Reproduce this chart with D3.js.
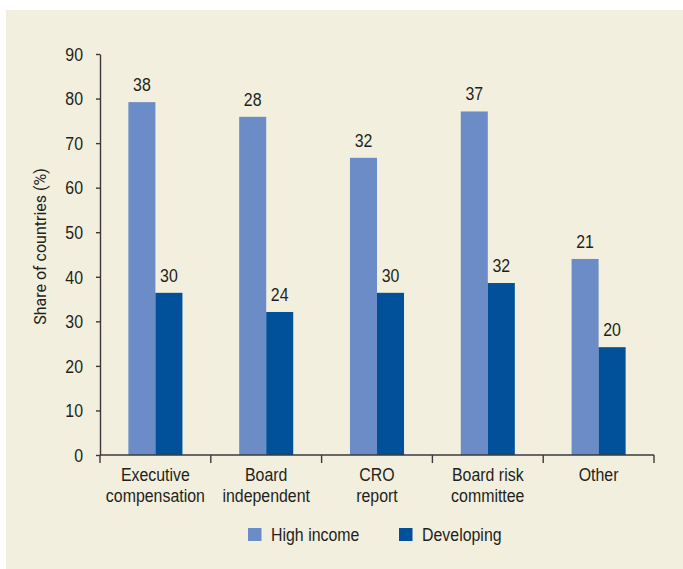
<!DOCTYPE html>
<html>
<head>
<meta charset="utf-8">
<script src="https://cdn.jsdelivr.net/npm/d3@7"></script>
<style>
  html, body { margin: 0; padding: 0; background: #ffffff; }
  svg { display: block; }
  .cond { font-family: "Liberation Sans", Arial, sans-serif; fill: #231f20; }
</style>
</head>
<body>
<svg id="chart" width="683" height="569"></svg>
<script>
// Categories (two-line labels) and series
const categories = ["Executive compensation", "Board independent", "CRO report", "Board risk committee", "Other"];
const categoryLines = [["Executive", "compensation"], ["Board", "independent"], ["CRO", "report"], ["Board risk", "committee"], ["Other"]];
const seriesNames = ["High income", "Developing"];

// Share of countries (%) for each group
const highIncomeShare = [79.2, 75.9, 66.7, 77.1, 44.0];
const developingShare = [36.4, 32.1, 36.4, 38.6, 24.2];

// Number of countries, printed above each bar
const highIncomeCount = [38, 28, 32, 37, 21];
const developingCount = [30, 24, 30, 32, 20];

const yTicks = [0, 10, 20, 30, 40, 50, 60, 70, 80, 90];
const yTitle = "Share of countries (%)";

const colors = { "High income": "#6c8cc7", "Developing": "#00519a" };

// Horizontal squeeze giving a condensed face from a regular one
const SQUEEZE = 0.86;
function condense(sel) {
  sel.each(function() {
    const t = d3.select(this);
    const x = +t.attr("x") || 0;
    t.attr("x", x / SQUEEZE);
    t.selectAll("tspan").each(function() {
      const ts = d3.select(this);
      if (ts.attr("x") !== null) ts.attr("x", +ts.attr("x") / SQUEEZE);
    });
    const prev = t.attr("transform") || "";
    t.attr("transform", prev + ` scale(${SQUEEZE},1)`);
  });
}

const svg = d3.select("#chart");

// Background panel
svg.append("rect")
  .attr("x", 6).attr("y", 10)
  .attr("width", 677).attr("height", 559)
  .attr("fill", "#f2efde");

const plot = { left: 100, right: 654, top: 54, bottom: 455 };

const x0 = d3.scaleBand().domain(categories).range([plot.left, plot.right]).padding(0);
const x1 = d3.scaleBand().domain(seriesNames).range([0, x0.bandwidth()]).paddingInner(0).paddingOuter(1.05);
const y = d3.scaleLinear().domain([0, 90]).range([plot.bottom, plot.top]);

const rows = categories.map((c, i) => ({
  category: c,
  values: [
    { series: "High income", share: highIncomeShare[i], count: highIncomeCount[i] },
    { series: "Developing", share: developingShare[i], count: developingCount[i] }
  ]
}));

// Bars
const groups = svg.append("g").selectAll("g")
  .data(rows).join("g")
  .attr("transform", d => `translate(${x0(d.category)},0)`);

groups.selectAll("rect")
  .data(d => d.values).join("rect")
  .attr("x", d => x1(d.series))
  .attr("width", x1.bandwidth())
  .attr("y", d => y(d.share))
  .attr("height", d => y(0) - y(d.share))
  .attr("fill", d => colors[d.series]);

// Count labels above bars
groups.selectAll("text")
  .data(d => d.values).join("text")
  .attr("class", "cond")
  .attr("x", d => x1(d.series) + x1.bandwidth() / 2)
  .attr("y", d => y(d.share) - 11)
  .attr("text-anchor", "middle")
  .attr("font-size", 18.5)
  .text(d => d.count)
  .call(condense);

// Y axis
const yAxis = svg.append("g")
  .attr("transform", `translate(${plot.left},0)`)
  .call(d3.axisLeft(y).tickValues(yTicks).tickSize(4).tickSizeOuter(0).tickPadding(13));
yAxis.select(".domain").attr("stroke", "#3a3a3a").attr("stroke-width", 1.4);
yAxis.selectAll(".tick line").attr("stroke", "#3a3a3a").attr("stroke-width", 1.4);
yAxis.selectAll(".tick text")
  .attr("class", "cond")
  .attr("font-size", 18.5)
  .attr("dy", "0.34em")
  .call(condense);

// X axis: baseline with ticks at band boundaries
const xAxis = svg.append("g");
xAxis.append("line")
  .attr("x1", plot.left).attr("x2", plot.right)
  .attr("y1", y(0)).attr("y2", y(0))
  .attr("stroke", "#3a3a3a").attr("stroke-width", 1.6);
const boundaries = categories.map(c => x0(c)).concat([x0.range()[1]]);
xAxis.selectAll("line.tick")
  .data(boundaries).join("line")
  .attr("class", "tick")
  .attr("x1", d => d).attr("x2", d => d)
  .attr("y1", y(0)).attr("y2", y(0) + 8)
  .attr("stroke", "#3a3a3a").attr("stroke-width", 1.4);

// Category labels
const catLabels = xAxis.selectAll("text.cat")
  .data(categories).join("text")
  .attr("class", "cond cat")
  .attr("text-anchor", "middle")
  .attr("font-size", 18.5)
  .attr("x", d => x0(d) + x0.bandwidth() / 2)
  .attr("y", y(0) + 26);
catLabels.each(function(d, i) {
  const t = d3.select(this);
  categoryLines[i].forEach((line, j) => {
    t.append("tspan")
      .attr("x", x0(d) + x0.bandwidth() / 2)
      .attr("dy", j === 0 ? 0 : 21)
      .text(line);
  });
});
catLabels.call(condense);

// Y axis title
svg.append("text")
  .attr("transform", `translate(46,${(plot.top + plot.bottom) / 2 - 8}) rotate(-90)`)
  .attr("text-anchor", "middle")
  .attr("font-family", "Roboto, 'Liberation Sans', Arial, sans-serif")
  .attr("font-size", 16)
  .attr("fill", "#231f20")
  .text(yTitle);

// Legend
const legendItems = [
  { name: "High income", x: 248 },
  { name: "Developing", x: 399 }
];
const legend = svg.append("g").selectAll("g")
  .data(legendItems).join("g")
  .attr("transform", d => `translate(${d.x},528)`);
legend.append("rect")
  .attr("width", 13.5).attr("height", 13)
  .attr("fill", d => colors[d.name]);
legend.append("text")
  .attr("class", "cond")
  .attr("x", 23)
  .attr("y", 13)
  .attr("font-size", 18.5)
  .text(d => d.name)
  .call(condense);
</script>
</body>
</html>
